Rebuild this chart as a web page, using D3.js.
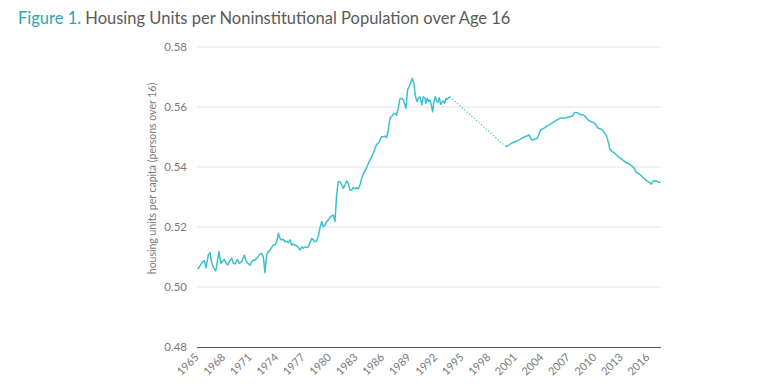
<!DOCTYPE html>
<html>
<head>
<meta charset="utf-8">
<script src="https://cdn.jsdelivr.net/npm/d3@7"></script>
<style>
  html, body { margin: 0; padding: 0; background: #fff; }
  svg { display: block; font-family: Lato, "Open Sans", sans-serif; }
</style>
</head>
<body>
<svg id="chart" width="768" height="390"></svg>
<script>
// ---- Data ----
const titleLead = "Figure 1.";
const titleRest = " Housing Units per Noninstitutional Population over Age 16";
const yAxisTitle = "housing units per capita (persons over 16)";
const yTicks = [0.48, 0.50, 0.52, 0.54, 0.56, 0.58];
const xTicks = [1965, 1968, 1971, 1974, 1977, 1980, 1983, 1986, 1989, 1992, 1995, 1998, 2001, 2004, 2007, 2010, 2013, 2016];

// Period 1: 1965 – 1993
const years1 = [1965.08,1965.34,1965.60,1965.83,1966.02,1966.28,1966.47,1966.66,1966.92,1967.12,1967.30,1967.49,1967.71,1967.86,1968.09,1968.28,1968.47,1968.65,1968.93,1969.11,1969.30,1969.56,1969.79,1970.06,1970.35,1970.54,1970.74,1971.00,1971.19,1971.37,1971.56,1971.75,1971.93,1972.13,1972.32,1972.50,1972.69,1972.88,1973.07,1973.26,1973.45,1973.63,1973.82,1974.02,1974.20,1974.39,1974.58,1974.76,1974.95,1975.15,1975.33,1975.52,1975.71,1975.89,1976.09,1976.28,1976.46,1976.65,1976.84,1977.02,1977.22,1977.41,1977.59,1977.78,1977.98,1978.16,1978.35,1978.54,1978.72,1978.91,1979.11,1979.29,1979.48,1979.67,1979.85,1980.05,1980.24,1980.42,1980.61,1980.80,1980.98,1981.18,1981.37,1981.55,1981.74,1981.93,1982.12,1982.31,1982.50,1982.68,1982.87,1983.07,1983.25,1983.44,1983.63,1983.81,1984.00,1984.20,1984.38,1984.57,1984.76,1984.94,1985.14,1985.33,1985.51,1985.70,1985.89,1986.08,1986.27,1986.46,1986.64,1986.83,1987.02,1987.21,1987.40,1987.59,1987.77,1987.96,1988.16,1988.34,1988.53,1988.64,1988.83,1989.01,1989.21,1989.35,1989.55,1989.66,1989.77,1989.92,1990.03,1990.23,1990.34,1990.45,1990.60,1990.79,1990.90,1991.05,1991.21,1991.36,1991.55,1991.66,1991.81,1991.96,1992.12,1992.26,1992.41,1992.57,1992.72,1992.87,1993.02,1993.17,1993.31,1993.47,1993.62];
const values1 = [0.5060,0.5070,0.5084,0.5088,0.5064,0.5107,0.5114,0.5080,0.5062,0.5054,0.5084,0.5118,0.5079,0.5084,0.5092,0.5081,0.5073,0.5084,0.5096,0.5079,0.5077,0.5092,0.5079,0.5084,0.5107,0.5088,0.5079,0.5073,0.5084,0.5090,0.5088,0.5096,0.5101,0.5110,0.5112,0.5101,0.5048,0.5107,0.5118,0.5123,0.5132,0.5140,0.5140,0.5151,0.5179,0.5162,0.5157,0.5159,0.5151,0.5153,0.5148,0.5157,0.5140,0.5143,0.5140,0.5137,0.5132,0.5123,0.5134,0.5129,0.5134,0.5131,0.5134,0.5148,0.5162,0.5157,0.5151,0.5154,0.5168,0.5196,0.5218,0.5201,0.5207,0.5218,0.5223,0.5232,0.5237,0.5240,0.5218,0.5307,0.5351,0.5351,0.5340,0.5329,0.5340,0.5353,0.5345,0.5323,0.5323,0.5331,0.5327,0.5331,0.5327,0.5340,0.5362,0.5376,0.5387,0.5398,0.5412,0.5423,0.5434,0.5446,0.5462,0.5476,0.5478,0.5490,0.5501,0.5501,0.5503,0.5498,0.5523,0.5562,0.5568,0.5576,0.5579,0.5573,0.5596,0.5627,0.5629,0.5623,0.5607,0.5596,0.5657,0.5668,0.5684,0.5696,0.5679,0.5646,0.5629,0.5618,0.5629,0.5634,0.5618,0.5607,0.5634,0.5629,0.5612,0.5629,0.5618,0.5623,0.5601,0.5584,0.5618,0.5634,0.5618,0.5616,0.5631,0.5609,0.5616,0.5620,0.5612,0.5629,0.5626,0.5631,0.5634];

// Period 2: 2000 – 2017
const years2 = [1999.95,2000.21,2000.41,2000.71,2000.97,2001.23,2001.54,2001.84,2002.10,2002.36,2002.59,2002.78,2002.98,2003.24,2003.50,2003.72,2003.88,2004.11,2004.37,2004.63,2004.93,2005.24,2005.50,2005.76,2006.06,2006.29,2006.52,2006.74,2007.00,2007.27,2007.50,2007.76,2008.02,2008.25,2008.47,2008.70,2008.89,2009.08,2009.38,2009.65,2009.91,2010.14,2010.40,2010.67,2010.90,2011.08,2011.35,2011.53,2011.72,2011.91,2012.17,2012.48,2012.77,2013.04,2013.30,2013.61,2013.90,2014.17,2014.43,2014.66,2014.92,2015.19,2015.42,2015.68,2015.94,2016.24,2016.39,2016.62,2016.92,2017.18,2017.45];
const values2 = [0.5468,0.5471,0.5476,0.5481,0.5484,0.5487,0.5492,0.5498,0.5501,0.5504,0.5507,0.5493,0.5490,0.5493,0.5496,0.5512,0.5523,0.5527,0.5531,0.5537,0.5542,0.5548,0.5553,0.5557,0.5562,0.5564,0.5562,0.5564,0.5566,0.5568,0.5571,0.5582,0.5581,0.5576,0.5574,0.5573,0.5570,0.5562,0.5554,0.5551,0.5548,0.5540,0.5529,0.5527,0.5523,0.5514,0.5503,0.5484,0.5459,0.5453,0.5448,0.5440,0.5432,0.5426,0.5420,0.5414,0.5410,0.5404,0.5398,0.5384,0.5379,0.5373,0.5366,0.5359,0.5353,0.5348,0.5343,0.5354,0.5353,0.5351,0.5348];

// ---- Drawing ----
const svg = d3.select("#chart");
const lineColor = "#3bc1cc";
const textGray = "#7a7a7a";
const plot = { left: 197, right: 661, top: 47, bottom: 347 };

const x = d3.scaleLinear().domain([1965, 2017.5]).range([plot.left, plot.right]);
const y = d3.scaleLinear().domain([0.48, 0.58]).range([plot.bottom, plot.top]);

// Title
const title = svg.append("text").attr("x", 18).attr("y", 24)
  .style("font-size", "16.5px").style("font-weight", 400);
title.append("tspan").attr("fill", "#2aa5b2").text(titleLead);
title.append("tspan").attr("fill", "#5a5a5a").text(titleRest);

// Grid lines
svg.append("g").selectAll("line")
  .data(yTicks.filter(d => d > 0.48))
  .join("line")
  .attr("x1", plot.left).attr("x2", plot.right)
  .attr("y1", d => y(d)).attr("y2", d => y(d))
  .attr("stroke", "#e3e3e3").attr("stroke-width", 1);

// Y axis
const yAxis = svg.append("g")
  .attr("transform", `translate(${plot.left},0)`)
  .call(d3.axisLeft(y).tickValues(yTicks).tickFormat(d3.format(".2f")).tickSize(0).tickPadding(10));
yAxis.select(".domain").remove();
yAxis.selectAll("text").attr("fill", textGray).style("font-size", "11.5px")
  .style("font-family", "Lato, sans-serif");

// X axis
const xAxis = svg.append("g")
  .attr("transform", `translate(0,${plot.bottom})`)
  .call(d3.axisBottom(x).tickValues(xTicks).tickFormat(d3.format("d")).tickSize(0).tickPadding(0));
xAxis.select(".domain").attr("stroke", "#555").attr("stroke-width", 1)
  .attr("d", `M${plot.left},0.5H${plot.right}`);
xAxis.selectAll("text")
  .attr("fill", textGray).style("font-size", "11px")
  .style("font-family", "Lato, sans-serif")
  .attr("text-anchor", "end")
  .attr("dy", null)
  .attr("transform", "translate(2,11) rotate(-45)");

// Y axis title
svg.append("text")
  .attr("transform", `translate(156,178.5) rotate(-90)`)
  .attr("text-anchor", "middle")
  .attr("fill", textGray)
  .style("font-size", "10.5px")
  .text(yAxisTitle);

// Lines
const line = d3.line().x(d => x(d[0])).y(d => y(d[1]));
const s1 = years1.map((yr, i) => [yr, values1[i]]);
const s2 = years2.map((yr, i) => [yr, values2[i]]);

svg.append("path").datum(s1).attr("d", line)
  .attr("fill", "none").attr("stroke", lineColor).attr("stroke-width", 1.5)
  .attr("stroke-linejoin", "round");
svg.append("path").datum(s2).attr("d", line)
  .attr("fill", "none").attr("stroke", lineColor).attr("stroke-width", 1.5)
  .attr("stroke-linejoin", "round");
// dotted gap connector
svg.append("path").datum([s1[s1.length - 1], s2[0]]).attr("d", line)
  .attr("fill", "none").attr("stroke", lineColor).attr("stroke-width", 1.2)
  .attr("stroke-dasharray", "1.2,2");
</script>
</body>
</html>
